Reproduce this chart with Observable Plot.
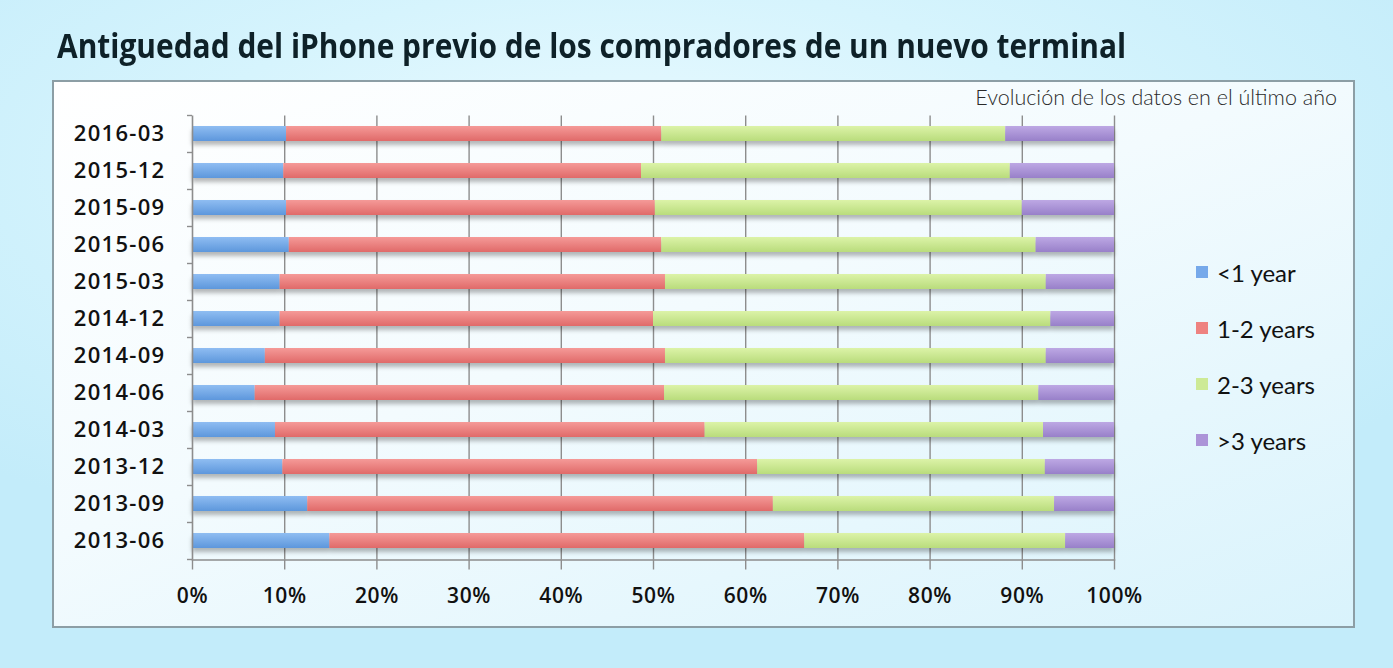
<!DOCTYPE html>
<html>
<head>
<meta charset="utf-8">
<script src="https://cdn.jsdelivr.net/npm/d3@7"></script>
<script src="https://cdn.jsdelivr.net/npm/@observablehq/plot@0.6"></script>
<style>
  html, body { margin: 0; padding: 0; }
  body { width: 1393px; height: 668px; overflow: hidden; position: relative;
    background: radial-gradient(ellipse 70% 60% at 45% 25%, #eafaff 0%, #d6f4fd 45%, #c3ecfa 100%); }
  #title { position: absolute; left: 57px; top: 22px; font-family: "Open Sans", sans-serif;
    font-weight: 700; font-size: 34px; color: #0e2128; white-space: nowrap;
    transform: scaleX(0.88); transform-origin: left center; }
  #box { position: absolute; left: 52px; top: 80px; width: 1303px; height: 548px; border: 2px solid #8c9ea5;
    background: linear-gradient(160deg, #ffffff 0%, #f3fbfe 45%, #d9f3fc 100%); box-sizing: border-box; }
  #subtitle { position: absolute; right: 56px; top: 84px; font-family: Lato, "Open Sans", sans-serif; font-weight: 300;
    font-size: 21.5px; color: #2a2a2a; white-space: nowrap; }
  #chart { position: absolute; left: 0; top: 0; }
  #legend { position: absolute; left: 1196px; top: 258px; font-family: Lato, "Open Sans", sans-serif; font-size: 24px; color: #111; }
  #legend .item { display: flex; align-items: center; height: 28px; margin-bottom: 28px; }
  #legend .sw { width: 12px; height: 12px; margin-right: 9px; }
  #chart g[aria-label="bar"] { filter: drop-shadow(0px 4px 2px rgba(0,0,0,0.28)); }
  #chart g[aria-label="y-axis tick label"] { letter-spacing: 1.3px; }
  #chart g[aria-label="x-axis tick label"] { letter-spacing: 0.6px; }
</style>
</head>
<body>
<div id="box"></div>
<div id="title">Antiguedad del iPhone previo de los compradores de un nuevo terminal</div>
<div id="subtitle">Evolución de los datos en el último año</div>
<svg width="0" height="0" style="position:absolute">
  <defs>
    <linearGradient id="gBlue" x1="0" y1="0" x2="0" y2="1"><stop offset="0" stop-color="#8fbdf2"/><stop offset="1" stop-color="#5d97dc"/></linearGradient>
    <linearGradient id="gRed" x1="0" y1="0" x2="0" y2="1"><stop offset="0" stop-color="#f59a98"/><stop offset="1" stop-color="#e06a69"/></linearGradient>
    <linearGradient id="gGreen" x1="0" y1="0" x2="0" y2="1"><stop offset="0" stop-color="#dcf3a8"/><stop offset="1" stop-color="#b9dc7c"/></linearGradient>
    <linearGradient id="gPurple" x1="0" y1="0" x2="0" y2="1"><stop offset="0" stop-color="#bda8e4"/><stop offset="1" stop-color="#9880c9"/></linearGradient>
  </defs>
</svg>
<div id="chart"></div>
<div id="legend"></div>
<script>
// ---- data ----
const dates = ["2016-03","2015-12","2015-09","2015-06","2015-03","2014-12","2014-09","2014-06","2014-03","2013-12","2013-09","2013-06"];
const series = ["<1 year", "1-2 years", "2-3 years", ">3 years"];
const lessThan1 = [10.2, 9.9, 10.2, 10.5, 9.5, 9.5, 7.9, 6.8, 9.0, 9.8, 12.5, 14.9];
const oneToTwo  = [40.7, 38.8, 40.0, 40.4, 41.8, 40.5, 43.4, 44.4, 46.6, 51.5, 50.5, 51.5];
const twoToThree= [37.3, 40.0, 39.8, 40.6, 41.3, 43.1, 41.3, 40.6, 36.7, 31.2, 30.5, 28.3];
const moreThan3 = [11.8, 11.3, 10.0, 8.5, 7.4, 6.9, 7.4, 8.2, 7.7, 7.5, 6.5, 5.3];
const xTicks = [0, 0.1, 0.2, 0.3, 0.4, 0.5, 0.6, 0.7, 0.8, 0.9, 1];

const swatch = ["#76a9ea", "#ee8280", "#cdea96", "#ac94d8"];
const fills = ["url(#gBlue)", "url(#gRed)", "url(#gGreen)", "url(#gPurple)"];

const values = [lessThan1, oneToTwo, twoToThree, moreThan3];
const rows = [];
series.forEach((s, si) => dates.forEach((d, di) => rows.push({date: d, series: s, value: values[si][di] / 100})));

const half = 18.5;
const chart = Plot.plot({
  width: 1393,
  height: 668,
  marginLeft: 192,
  marginRight: 279,
  marginTop: 115.5,
  marginBottom: 108.5,
  style: {background: "transparent", overflow: "visible"},
  x: {domain: [0, 1]},
  y: {domain: dates, paddingInner: 0.59, paddingOuter: 0.295},
  color: {domain: series, range: fills, type: "ordinal"},
  marks: [
    Plot.gridX(xTicks.filter(d => d > 0), {stroke: "#8d8d8d", strokeOpacity: 1, strokeWidth: 1.4}),
    Plot.ruleY(dates, {y: d => d, dy: -half, x1: 0, x2: 0, insetLeft: -5, stroke: "#8d8d8d", strokeWidth: 1.4}),
    Plot.ruleY([dates[dates.length - 1]], {y: d => d, dy: half, x1: 0, x2: 0, insetLeft: -5, stroke: "#8d8d8d", strokeWidth: 1.4}),
    Plot.barX(rows, {x: "value", y: "date", fill: "series"}),
    Plot.ruleX([0], {stroke: "#8d8d8d", strokeWidth: 1.6}),
    Plot.frame({anchor: "bottom", stroke: "#8d8d8d", strokeWidth: 1.6}),
    Plot.axisX({ticks: xTicks, tickFormat: d3.format(".0%"), tickSize: 10, tickPadding: 18, label: null,
      stroke: "#8d8d8d", strokeWidth: 1.4, fontSize: 21, fontWeight: 600, fill: "#111",
      fontFamily: "'Open Sans', sans-serif"}),
    Plot.axisY({tickSize: 0, tickPadding: 27, label: null, fontSize: 22, fontWeight: 600, fill: "#111",
      fontFamily: "'Open Sans', sans-serif"})
  ]
});
document.getElementById("chart").appendChild(chart);

const legend = document.getElementById("legend");
series.forEach((s, i) => {
  const it = document.createElement("div");
  it.className = "item";
  const sw = document.createElement("div");
  sw.className = "sw";
  sw.style.background = swatch[i];
  const t = document.createElement("span");
  t.textContent = s;
  it.appendChild(sw); it.appendChild(t);
  legend.appendChild(it);
});
</script>
</body>
</html>
